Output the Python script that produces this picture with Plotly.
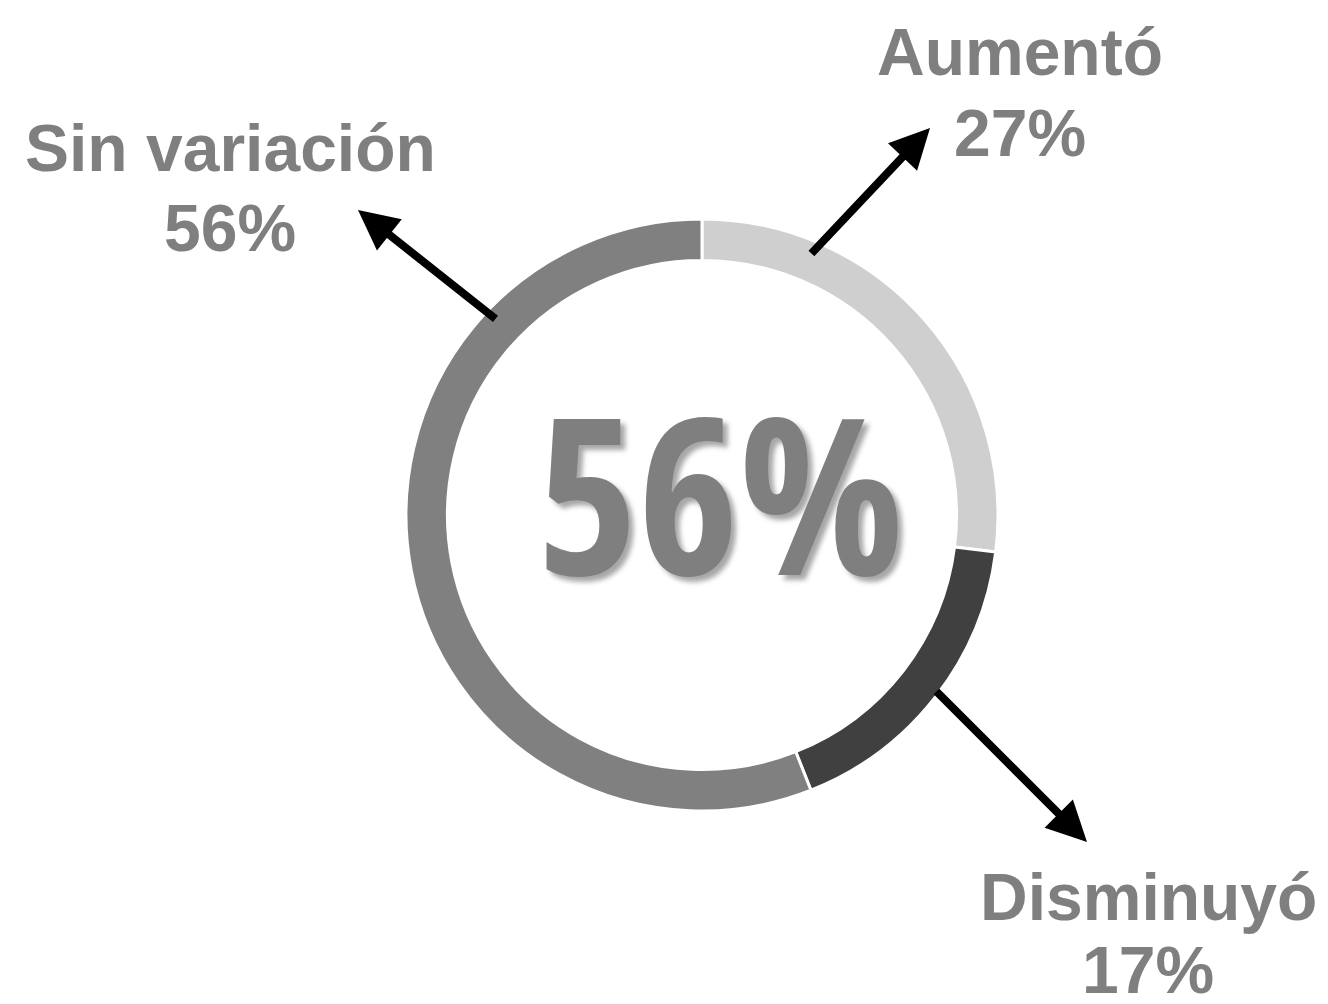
import plotly.graph_objects as go

W, H = 1328, 1004
PAGE_OFFSET = 8  # default body margin of the page

categories = ["Aumentó", "Disminuyó", "Sin variación"]
values = [27, 17, 56]
colors = ["#d0cfd0", "#404040", "#808080"]
center_text = "56%"

# label line centres (screen pixels): (x, y of name line, y of percent line)
label_pos = {
    "Aumentó": (1020, 52, 133),
    "Disminuyó": (1148, 897, 970),
    "Sin variación": (230, 148, 228),
}
# arrow (tail -> head) in screen pixels
arrows = {
    "Aumentó": ((810, 255), (930, 128)),
    "Disminuyó": ((935, 690), (1087, 842)),
    "Sin variación": ((497, 320), (358, 210)),
}


def px_x(x):
    return (x - PAGE_OFFSET) / W


def px_y(y):
    return 1 - (y - PAGE_OFFSET) / H


cx, cy, r = 702, 515, 296

fig = go.Figure()
fig.add_pie(
    labels=categories,
    values=values,
    hole=0.86,
    sort=False,
    direction="clockwise",
    rotation=0,
    marker=dict(colors=colors, line=dict(color="white", width=3)),
    textinfo="none",
    hoverinfo="label+percent",
    showlegend=False,
    domain=dict(x=[px_x(cx - r), px_x(cx + r)], y=[px_y(cy + r), px_y(cy - r)]),
)

# center number
fig.add_annotation(x=px_x(720), y=px_y(490), xref="paper", yref="paper",
                   xanchor="center", yanchor="middle",
                   text=f"<b>{center_text}</b>", showarrow=False,
                   font=dict(family="Open Sans Condensed, Roboto Condensed, sans-serif",
                             size=218, color="#7f7f7f",
                             shadow="5px 5px 5px rgba(0,0,0,0.35)"))

for cat, val in zip(categories, values):
    lx, ly1, ly2 = label_pos[cat]
    for txt, ly in ((cat, ly1), (f"{val}%", ly2)):
        fig.add_annotation(
            x=px_x(lx), y=px_y(ly), xref="paper", yref="paper",
            xanchor="center", yanchor="middle",
            text=f"<b>{txt}</b>", showarrow=False,
            font=dict(family="Liberation Sans, Arial", size=66, color="#7f7f7f"),
        )
    (tx, ty), (hx, hy) = arrows[cat]
    fig.add_annotation(
        x=px_x(hx), y=px_y(hy), xref="paper", yref="paper",
        ax=tx - hx, ay=ty - hy, axref="pixel", ayref="pixel",
        text="", showarrow=True, arrowhead=2, arrowsize=1.0, arrowwidth=8,
        arrowcolor="black", standoff=0,
    )

fig.update_layout(
    width=W, height=H,
    margin=dict(l=0, r=0, t=0, b=0),
    paper_bgcolor="white",
    plot_bgcolor="white",
)

fig.write_html("out.html")
